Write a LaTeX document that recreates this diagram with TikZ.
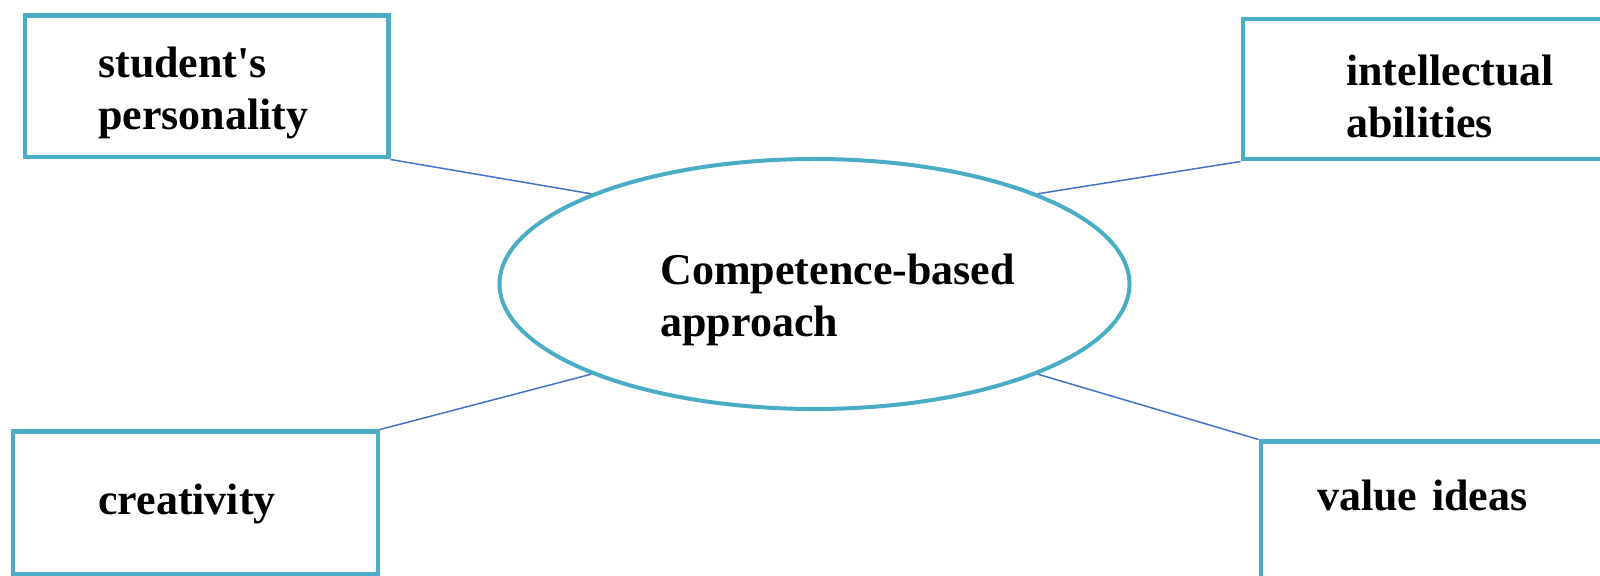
\documentclass[tikz,border=0pt]{standalone}
\usepackage{fontspec}
\setmainfont{Liberation Serif}
\usepackage{xcolor}
\usepackage{tikz}
\usetikzlibrary{shapes.geometric}

\definecolor{boxcyan}{HTML}{4BACC6}
\definecolor{linkblue}{HTML}{4472C4}

\begin{document}
\begin{tikzpicture}[x=0.5pt, y=-0.5pt,
    box/.style={draw=boxcyan, line width=2.25pt, anchor=north west, inner sep=0pt,
      align=left, font=\fontsize{22}{26}\selectfont\bfseries},
    hub/.style={ellipse, draw=boxcyan, line width=2pt, inner sep=0pt,
      minimum width=315pt, minimum height=125pt, text width=210pt,
      align=left, font=\fontsize{22}{26}\selectfont\bfseries},
    link/.style={draw=linkblue, line width=0.75pt}]
  \useasboundingbox (0,0) rectangle (1600,576);
  % Central ellipse
  \node[hub] (hub) at (814.5,284)
    {\rule{0pt}{31pt}\hspace*{28pt}Competence-based\\\hspace*{28pt}approach};
  % Surrounding boxes
  \node[box, minimum width=181.75pt, minimum height=70.75pt, text width=108.25pt]
    (person) at (22.5,13.5) {\rule{0pt}{22pt}student\textquotesingle s\\personality};
  \node[box, minimum width=211pt, minimum height=70pt, text width=107.5pt]
    (intel) at (1240.5,17) {\rule{0pt}{22pt}intellectual\\abilities};
  \node[box, minimum width=182.5pt, minimum height=71pt, text width=97pt]
    (creat) at (10.5,429.5) {\rule[-5pt]{0pt}{22pt}creativity};
  \node[box, minimum width=176.5pt, minimum height=72.5pt, text width=120pt]
    (value) at (1258.5,439.5) {\rule[-19pt]{0pt}{22pt}value ideas};
  % Links to the ellipse
  \foreach \b/\a in {person.south east/158, intel.south west/22,
                     creat.north east/202, value.north west/338}
    \draw[link] (\b) -- (hub.\a);
\end{tikzpicture}
\end{document}
